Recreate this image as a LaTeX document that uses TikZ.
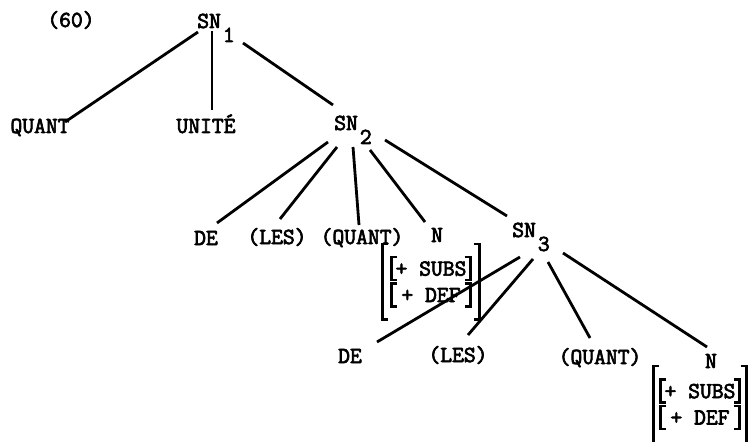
\documentclass[tikz,border=0pt]{standalone}
\usepackage{fontspec}
\newfontfamily\tw{Latin Modern Mono}[FakeBold=3]
\usetikzlibrary{fit}
\newcommand\lowsub[1]{\hspace{1.5pt}\smash{\raisebox{-10.5pt}{#1}}}

\begin{document}
\begin{tikzpicture}[x=0.75pt, y=-0.75pt]
        \tikzstyle{every node}=[inner sep=0pt, font=\tw\fontsize{17.2}{20}\selectfont]
        \tikzstyle{cat}=[anchor=base]
        \tikzstyle{sn}=[anchor=base west]
        \tikzstyle{feat}=[minimum width=59pt, minimum height=17pt, inner xsep=2pt, text depth=0pt]
        \tikzstyle{branch}=[line width=2.1pt]
        \tikzstyle{brk}=[line width=1.8pt]
        \useasboundingbox (0,0) rectangle (753,442);
        % labels of the tree
        \node [cat] (ex) at (71,27) {(60)};
        \node [sn] (sn1) at (197,28) {SN\lowsub{1}};
        \node [cat] (quant1) at (40,133) {QUANT};
        \node [cat] (unite) at (206,133) {UNITÉ};
        \node [sn] (sn2) at (334,130) {SN\lowsub{2}};
        \node [cat] (de1) at (206,245) {DE};
        \node [cat] (les1) at (277,244) {(LES)};
        \node [cat] (quant2) at (362,244) {(QUANT)};
        \node [cat] (n1) at (437,242) {N};
        \node [sn] (sn3) at (512,237) {SN\lowsub{3}};
        \node [cat] (de2) at (350,363) {DE};
        \node [cat] (les2) at (458,362) {(LES)};
        \node [cat] (quant3) at (600,364) {(QUANT)};
        \node [cat] (n2) at (711,368) {N};
        % feature matrices
        \node [feat] (subs1) at (431,268.5) {+ SUBS};
        \node [feat] (def1) at (431,295) {+ DEF\ };
        \node [fit=(subs1)(def1), inner xsep=6.5pt, inner ysep=9.5pt] (mat1) {};
        \node [feat] (subs2) at (700,391) {+ SUBS};
        \node [feat] (def2) at (700,417.5) {+ DEF\ };
        \node [fit=(subs2)(def2), inner xsep=5pt, inner ysep=10pt] (mat2) {};
        \foreach \b in {subs1,def1,mat1,subs2,def2,mat2}
            \draw [brk] ([xshift=4.5pt]\b.north west) -- (\b.north west) -- (\b.south west) -- ([xshift=4.5pt]\b.south west)
                        ([xshift=-4.5pt]\b.north east) -- (\b.north east) -- (\b.south east) -- ([xshift=-4.5pt]\b.south east);
        % branches
        \foreach \from/\fs/\to/\ts in {sn1.base west/{1,4}/quant1.base/{25,-11}, sn1.base west/{15,3}/unite.base/{6,-23}, sn1.base west/{46,15}/sn2.base west/{-1,-25},
                sn2.base west/{-6,12}/de1.base/{11,-22}, sn2.base west/{3,17}/les1.base/{3,-25}, sn2.base west/{19,17}/quant2.base/{-3,-19}, sn2.base west/{36,20}/n1.base/{-12,-20}, sn2.base west/{51,10}/sn3.base west/{-5,-21},
                sn3.base west/{8,20}/de2.base/{27,-21}, sn3.base west/{21,22}/les2.base/{10,-27}, sn3.base west/{36,25}/quant3.base/{-10,-26}, sn3.base west/{51,16}/n2.base/{-4,-21}}
            \draw [branch] ([shift={(\fs)}]\from) -- ([shift={(\ts)}]\to);
    \end{tikzpicture}
\end{document}
